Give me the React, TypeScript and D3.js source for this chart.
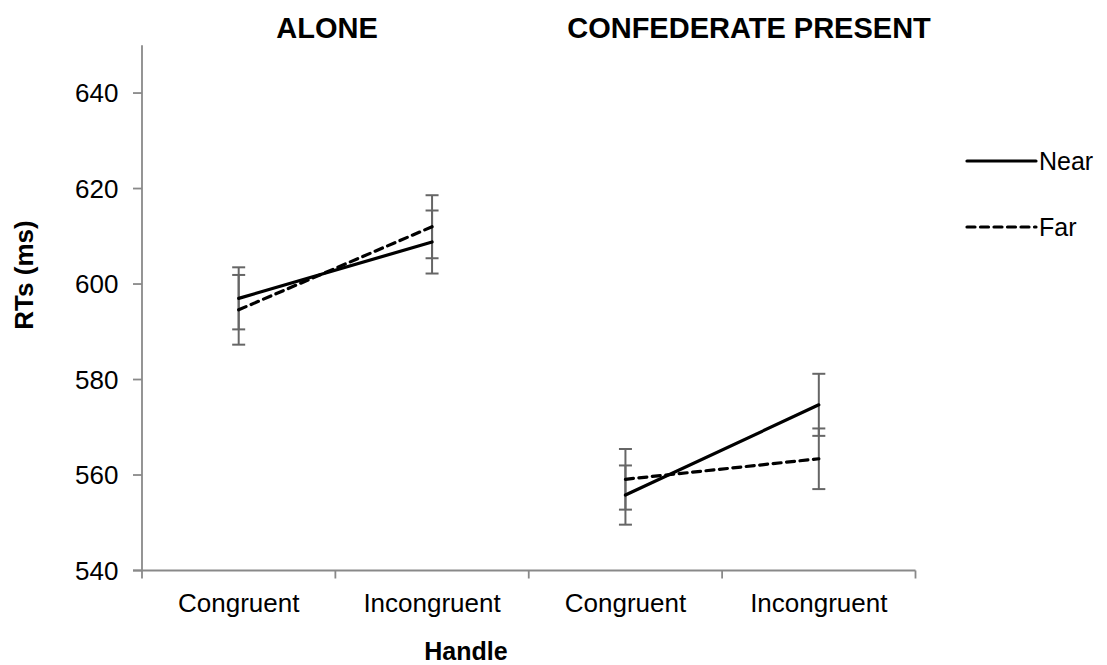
import React from "react";
import * as d3 from "d3";

// Mean reaction times (ms) per handle condition, split by context
const groups = ["ALONE", "CONFEDERATE PRESENT"];
const conditions = ["Congruent", "Incongruent"];
const categoryKeys = ["A-Congruent", "A-Incongruent", "C-Congruent", "C-Incongruent"];
const nearMeans = [597.0, 608.8, 555.8, 574.7];
const farMeans = [594.6, 612.0, 559.1, 563.4];
const nearErrors = [6.5, 6.6, 6.2, 6.5];
const farErrors = [7.3, 6.6, 6.35, 6.35];
const yTicks = [540, 560, 580, 600, 620, 640];

const W = 1107;
const H = 665;
const FONT = "'Liberation Sans', Arial, sans-serif";
const AXIS = "#898989";
const ERR = "#666666";

export default function App() {
  const y = d3.scaleLinear().domain([540, 650]).range([570.5, 45.3]);
  const x = d3.scaleBand<string>().domain(categoryKeys).range([142, 915.5]).padding(0);
  const cx = (i: number) => (x(categoryKeys[i]) as number) + x.bandwidth() / 2;

  const series = [
    { name: "Near", means: nearMeans, errs: nearErrors, dash: undefined as string | undefined },
    { name: "Far", means: farMeans, errs: farErrors, dash: "8,5.5" },
  ];

  // one segment per context: congruent -> incongruent
  const segPath = (means: number[], g: number) =>
    d3
      .line<number>()
      .x((i) => cx(i))
      .y((i) => y(means[i]))([g * 2, g * 2 + 1]) as string;

  const tickEdges = [...categoryKeys.map((k) => x(k) as number), x.range()[1]];
  const capHalf = 6.5;

  return (
    <svg
      width={W}
      height={H}
      style={{ position: "absolute", left: 0, top: 0, background: "#fff" }}
      fontFamily={FONT}
    >
      {/* panel titles */}
      <text x={327} y={38} textAnchor="middle" fontSize={29} fontWeight="bold">
        {groups[0]}
      </text>
      <text x={749} y={38} textAnchor="middle" fontSize={29} fontWeight="bold">
        {groups[1]}
      </text>

      {/* y axis */}
      <line x1={142} x2={142} y1={y(650)} y2={y(540)} stroke={AXIS} strokeWidth={1.8} />
      {yTicks.map((t) => (
        <g key={t}>
          <line x1={133} x2={142} y1={y(t)} y2={y(t)} stroke={AXIS} strokeWidth={1.8} />
          <text x={118.5} y={y(t)} dy="0.35em" textAnchor="end" fontSize={26}>
            {t}
          </text>
        </g>
      ))}
      <text
        transform={`translate(24,275) rotate(-90)`}
        textAnchor="middle"
        dy="0.35em"
        fontSize={26}
        fontWeight="bold"
      >
        RTs (ms)
      </text>

      {/* x axis */}
      <line x1={133} x2={x.range()[1]} y1={y(540)} y2={y(540)} stroke={AXIS} strokeWidth={1.8} />
      {tickEdges.map((tx, i) => (
        <line key={i} x1={tx} x2={tx} y1={y(540)} y2={y(540) + 8} stroke={AXIS} strokeWidth={1.8} />
      ))}
      {categoryKeys.map((k, i) => (
        <text key={k} x={cx(i)} y={612} textAnchor="middle" fontSize={26}>
          {conditions[i % 2]}
        </text>
      ))}
      <text x={466} y={660} textAnchor="middle" fontSize={25} fontWeight="bold">
        Handle
      </text>

      {/* error bars */}
      {series.map((s) =>
        s.means.map((m, i) => {
          const px = cx(i);
          const lo = y(m - s.errs[i]);
          const hi = y(m + s.errs[i]);
          return (
            <g key={s.name + i} stroke={ERR} strokeWidth={2}>
              <line x1={px} x2={px} y1={lo} y2={hi} />
              <line x1={px - capHalf} x2={px + capHalf} y1={lo} y2={lo} />
              <line x1={px - capHalf} x2={px + capHalf} y1={hi} y2={hi} />
            </g>
          );
        })
      )}

      {/* condition lines */}
      {series.map((s) =>
        [0, 1].map((g) => (
          <path
            key={s.name + g}
            d={segPath(s.means, g)}
            fill="none"
            stroke="#000"
            strokeWidth={3.2}
            strokeDasharray={s.dash}
            strokeLinecap="round"
          />
        ))
      )}

      {/* legend */}
      {series.map((s, i) => (
        <g key={s.name}>
          <line
            x1={967}
            x2={1036}
            y1={161 + i * 66}
            y2={161 + i * 66}
            stroke="#000"
            strokeWidth={3.2}
            strokeDasharray={s.dash}
            strokeLinecap="round"
          />
          <text x={1039} y={161 + i * 66} dy="0.35em" fontSize={25}>
            {s.name}
          </text>
        </g>
      ))}
    </svg>
  );
}
